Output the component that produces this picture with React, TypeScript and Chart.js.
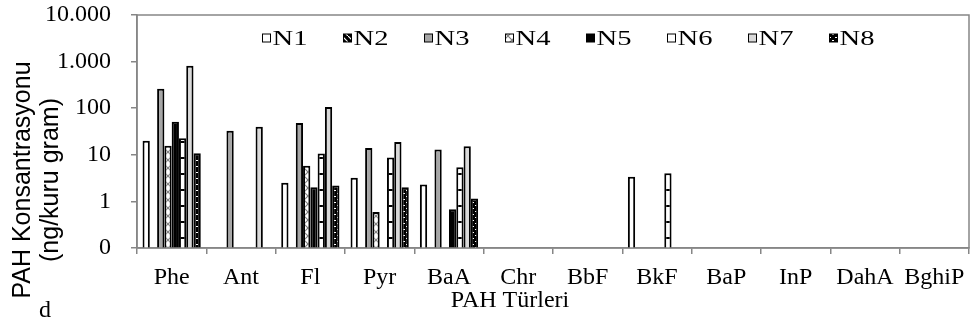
import React, { useEffect, useRef } from 'react';
import { Chart, registerables } from 'chart.js';
Chart.register(...registerables);

const categories = ['Phe', 'Ant', 'Fl', 'Pyr', 'BaA', 'Chr', 'BbF', 'BkF', 'BaP', 'InP', 'DahA', 'BghiP'];
const seriesNames = ['N1', 'N2', 'N3', 'N4', 'N5', 'N6', 'N7', 'N8'];
const n1 = [20, null, 2.5, 3.2, 2.3, null, null, 3.4, null, null, null, null];
const n2 = [null, null, null, null, null, null, null, null, null, null, null, null];
const n3 = [262, 33, 48, 14, 13, null, null, null, null, null, null, null];
const n4 = [15.7, null, 5.8, 0.59, null, null, null, null, null, null, null, null];
const n5 = [51, null, 2.0, null, 0.68, null, null, null, null, null, null, null];
const n6 = [22.6, null, 10.6, 8.7, 5.4, null, null, 4.0, null, null, null, null];
const n7 = [817, 40, 106, 18.8, 15.2, null, null, null, null, null, null, null];
const n8 = [10.8, null, 2.2, 2.0, 1.16, null, null, null, null, null, null, null];
const yTickValues = [0.1, 1, 10, 100, 1000, 10000];
const yTickLabels = ['0', '1', '10', '100', '1.000', '10.000'];
const yTitleLines = ['PAH Konsantrasyonu', '(ng/kuru gram)'];
const xTitle = 'PAH Türleri';
const cornerLabel = 'd';

const SERIF = '"Liberation Serif", "Times New Roman", serif';
const SANS = '"Liberation Sans", Arial, sans-serif';
const AXIS = '#868686';

function makePattern(w: number, h: number, draw: (c: CanvasRenderingContext2D) => void) {
  const cv = document.createElement('canvas');
  cv.width = w;
  cv.height = h;
  const c = cv.getContext('2d')!;
  draw(c);
  return c.createPattern(cv, 'repeat')!;
}

function buildFills() {
  const white = '#ffffff';
  const n2p = makePattern(6, 6, (c) => {
    c.fillStyle = '#000';
    c.fillRect(0, 0, 6, 6);
    c.strokeStyle = '#fff';
    c.lineWidth = 1.2;
    c.beginPath();
    c.moveTo(0, 0);
    c.lineTo(6, 6);
    c.stroke();
  });
  const n4p = makePattern(8, 8, (c) => {
    c.fillStyle = '#fff';
    c.fillRect(0, 0, 8, 8);
    c.strokeStyle = '#808080';
    c.lineWidth = 1.2;
    c.beginPath();
    c.moveTo(0, 0);
    c.lineTo(8, 8);
    c.moveTo(8, 0);
    c.lineTo(0, 8);
    c.stroke();
  });
  const n6p = makePattern(16, 16, (c) => {
    c.fillStyle = '#fff';
    c.fillRect(0, 0, 16, 16);
    c.fillStyle = '#000';
    c.fillRect(0, 13, 16, 2);
  });
  const n8p = makePattern(6, 6, (c) => {
    c.fillStyle = '#000';
    c.fillRect(0, 0, 6, 6);
    c.fillStyle = '#fff';
    c.fillRect(1, 1, 2, 1);
    c.fillRect(4, 4, 2, 1);
  });
  return [white, n2p, '#a6a6a6', n4p, '#000000', n6p, '#d9d9d9', n8p];
}

const framePlugin = {
  id: 'frameAndText',
  afterDraw(chart: any) {
    const { ctx, chartArea } = chart;
    ctx.save();
    ctx.strokeStyle = AXIS;
    ctx.lineWidth = 1.5;
    ctx.strokeRect(chartArea.left, chartArea.top, chartArea.right - chartArea.left, chartArea.bottom - chartArea.top);

    // legend
    const ds = chart.data.datasets;
    ctx.textBaseline = 'middle';
    ctx.textAlign = 'left';
    let x = 262.5;
    const cy = 38;
    for (let i = 0; i < ds.length; i++) {
      ctx.fillStyle = ds[i].backgroundColor;
      ctx.fillRect(x, cy - 4, 8, 8);
      ctx.strokeStyle = '#000';
      ctx.lineWidth = 1;
      ctx.strokeRect(x, cy - 4, 8, 8);
      ctx.fillStyle = '#000';
      ctx.save();
      ctx.translate(x + 10, cy + 1);
      ctx.scale(1.3, 1);
      ctx.font = `22px ${SERIF}`;
      ctx.fillText(ds[i].label, 0, 0);
      ctx.restore();
      x += 81;
    }

    ctx.font = `24px ${SERIF}`;
    // x title
    ctx.textAlign = 'center';
    ctx.fillText(xTitle, 510, 301);
    // corner label
    ctx.textAlign = 'left';
    ctx.fillText(cornerLabel, 39, 311);

    // y title
    ctx.font = `25px ${SANS}`;
    ctx.translate(0, 180);
    ctx.rotate(-Math.PI / 2);
    ctx.textAlign = 'center';
    ctx.fillText(yTitleLines[0], 0, 23);
    ctx.fillText(yTitleLines[1], 0, 51);
    ctx.restore();
  },
};

export default function App() {
  const ref = useRef<HTMLCanvasElement>(null);
  useEffect(() => {
    document.body.style.margin = '0';
    const fills = buildFills();
    const seriesData = [n1, n2, n3, n4, n5, n6, n7, n8];
    const chart = new Chart(ref.current!, {
      type: 'bar',
      data: {
        labels: categories,
        datasets: seriesNames.map((name, i) => ({
          label: name,
          data: seriesData[i] as any,
          backgroundColor: fills[i] as any,
          borderColor: '#000000',
          borderWidth: 2,
          categoryPercentage: 0.84,
          barPercentage: 1,
        })),
      },
      options: {
        animation: false,
        responsive: true,
        maintainAspectRatio: false,
        layout: { padding: { top: 15, right: 10, left: 0, bottom: 0 } },
        plugins: { legend: { display: false }, tooltip: { enabled: false } },
        scales: {
          x: {
            grid: { display: true, drawOnChartArea: false, color: AXIS, tickLength: 6, lineWidth: 1.5 },
            border: { display: true, color: AXIS, width: 1.5 },
            ticks: { color: '#000', font: { family: SERIF, size: 24 }, padding: 9, maxRotation: 0, autoSkip: false },
            afterFit: (s: any) => { s.height = 79; s.paddingLeft = 0; s.paddingRight = 0; },
          },
          y: {
            type: 'logarithmic',
            min: 0.1,
            max: 10000,
            grid: { display: true, drawOnChartArea: false, color: AXIS, tickLength: 6, lineWidth: 1.5 },
            border: { display: true, color: AXIS, width: 1.5 },
            ticks: {
              color: '#000',
              font: { family: SERIF, size: 24 },
              padding: 20,
              callback: (v: any) => {
                const idx = yTickValues.findIndex((t) => Math.abs(t - Number(v)) < 1e-9 * Math.max(1, t));
                return idx >= 0 ? yTickLabels[idx] : '';
              },
            },
            afterBuildTicks: (s: any) => { s.ticks = yTickValues.map((v) => ({ value: v })); },
            afterFit: (s: any) => { s.width = 137; s.paddingTop = 0; s.paddingBottom = 0; },
          },
        },
      },
      plugins: [framePlugin],
    } as any);
    return () => chart.destroy();
  }, []);
  return (
    <div style={{ position: 'relative', width: 979, height: 327 }}>
      <canvas ref={ref} />
    </div>
  );
}
